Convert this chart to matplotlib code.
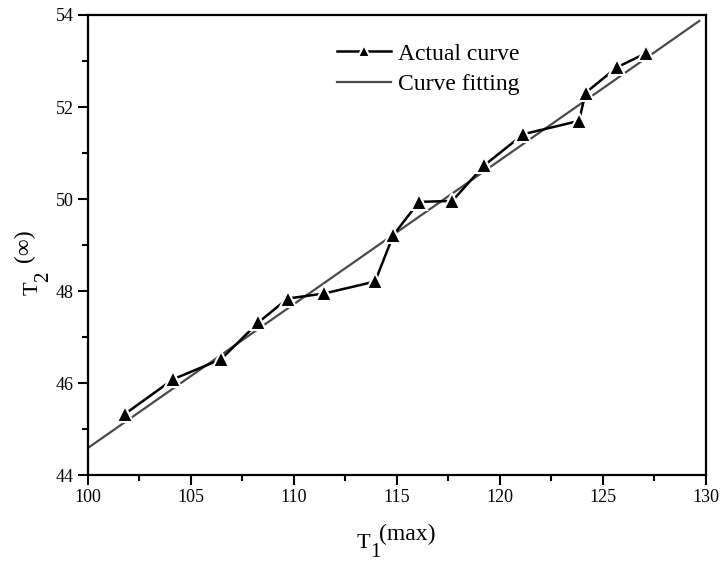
import matplotlib
matplotlib.use("Agg")
import matplotlib.pyplot as plt

# Data
actual_x = [101.8, 104.16, 106.47, 108.28, 109.71, 111.49, 113.95, 114.84,
            116.08, 117.70, 119.24, 121.15, 123.85, 124.17, 125.68, 127.10]
actual_y = [45.33, 46.09, 46.52, 47.32, 47.84, 47.95, 48.21, 49.22,
            49.94, 49.96, 50.73, 51.41, 51.70, 52.31, 52.86, 53.17]
fit_x = [100.0, 129.69]
fit_y = [44.59, 53.87]

x_ticks = [100, 105, 110, 115, 120, 125, 130]
y_ticks = [44, 46, 48, 50, 52, 54]
x_minor = [102.5, 107.5, 112.5, 117.5, 122.5, 127.5]
y_minor = [45, 47, 49, 51, 53]

plt.rcParams['font.family'] = ['Liberation Serif', 'DejaVu Serif']

W, H = 722, 563
fig = plt.figure(figsize=(W / 100, H / 100), dpi=100)
ax = fig.add_axes([0.1215, 0.1558, 0.8559, 0.8176])

ax.plot(fit_x, fit_y, color='#4a4a4a', lw=1.6, label='Curve fitting', zorder=2)
ax.plot(actual_x, actual_y, color='black', lw=1.8, marker='^', markersize=11.5,
        markerfacecolor='black', markeredgecolor='white', markeredgewidth=1.5,
        label='Actual curve', zorder=3)

ax.set_xlim(100, 130)
ax.set_ylim(44, 54)
ax.set_xticks(x_ticks)
ax.set_yticks(y_ticks)
ax.set_xticks(x_minor, minor=True)
ax.set_yticks(y_minor, minor=True)
ax.tick_params(axis='both', which='major', direction='out', length=7, width=1.5,
               labelsize=13, pad=3, top=False, right=False)
ax.tick_params(axis='both', which='minor', direction='out', length=4.5, width=1.5,
               top=False, right=False)
for t in (ax.xaxis.get_major_ticks() + ax.xaxis.get_minor_ticks()
          + ax.yaxis.get_major_ticks() + ax.yaxis.get_minor_ticks()):
    t.tick2line.set_visible(False)
for s in ax.spines.values():
    s.set_linewidth(1.6)


def px(x, y):
    return x / W, 1 - y / H


# x axis label: T, subscript 1, superscript (max)
fig.text(*px(357, 548), 'T', fontsize=16, ha='left', va='baseline')
fig.text(*px(370.5, 557), '1', fontsize=15, ha='left', va='baseline')
fig.text(*px(379.5, 540), '(max)', fontsize=17, ha='left', va='baseline')

# y axis label (rotated): T, subscript 2, superscript (∞)
fig.text(*px(38, 295), 'T', fontsize=16, ha='left', va='baseline',
         rotation=90, rotation_mode='anchor')
fig.text(*px(48, 282), '2', fontsize=15, ha='left', va='baseline',
         rotation=90, rotation_mode='anchor')
fig.text(*px(30, 262), '(\u221e)', fontsize=17, ha='left', va='baseline',
         rotation=90, rotation_mode='anchor')

h, l = ax.get_legend_handles_labels()
leg = ax.legend([h[1], h[0]], [l[1], l[0]], loc='upper left',
                bbox_to_anchor=(0.3765, 0.975), frameon=False, fontsize=17,
                handlelength=2.3, handletextpad=0.3, labelspacing=0.38,
                numpoints=1, markerscale=0.7, borderaxespad=0.3)

fig.savefig('out.png', dpi=100)
